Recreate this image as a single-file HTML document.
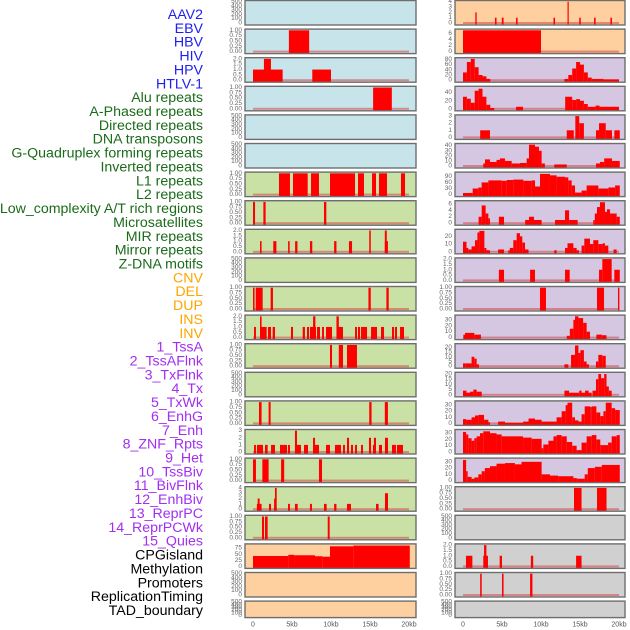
<!DOCTYPE html>
<html><head><meta charset="utf-8"><style>
html,body{margin:0;padding:0;background:#fff;}
svg{display:block;font-family:"Liberation Sans",sans-serif;}
</style></head><body>
<svg id="chart" width="630" height="630" viewBox="0 0 630 630" xmlns="http://www.w3.org/2000/svg"></svg>
<script>
const trackNames=["AAV2","EBV","HBV","HIV","HPV","HTLV-1","Alu repeats","A-Phased repeats","Directed repeats","DNA transposons","G-Quadruplex forming repeats","Inverted repeats","L1 repeats","L2 repeats","Low_complexity A/T rich regions","Microsatellites","MIR repeats","Mirror repeats","Z-DNA motifs","CNV","DEL","DUP","INS","INV","1_TssA","2_TssAFlnk","3_TxFlnk","4_Tx","5_TxWk","6_EnhG","7_Enh","8_ZNF_Rpts","9_Het","10_TssBiv","11_BivFlnk","12_EnhBiv","13_ReprPC","14_ReprPCWk","15_Quies","CPGisland","Methylation","Promoters","ReplicationTiming","TAD_boundary"];
const xTickKb=[0,5,10,15,20];
const xTickLabels=["0","5kb","10kb","15kb","20kb"];
// segments: [startKb, endKb, value]
const segAAV2=[];
const segEBV=[[4.6,7.2,1]];
const segHBV=[[0,3.8,1],[7.6,10.0,1],[1.4,2.3,2]];
const segHIV=[[15.4,17.8,1]];
const segHPV=[];
const segHTLV=[];
const segAlu=[[3.33,4.74,1],[5.13,7.01,1],[7.44,8.46,1],[9.87,13.08,1],[13.46,14.23,1],[15.26,15.77,1],[16.15,17.18,1],[18.97,19.49,1]];
const segAPhased=[[0,0.26,1],[1.33,1.62,1],[9.1,9.4,1]];
const segDirected=[[0.9,1.1,1],[2.6,3.0,1],[4.5,4.7,1],[5.4,5.7,1],[7.3,7.6,1],[10.4,10.7,1],[12.3,12.7,1],[14.9,15.1,2],[16.9,17.3,1],[16.9,17.15,2]];
const segDNAtrans=[];
const segGQuad=[[0,0.2,1],[0.35,1.24,1],[2.26,2.56,1],[14.8,15.1,1],[17.1,17.4,1]];
const segInverted=[[0.13,0.38,1],[0.9,1.75,1],[1.92,2.31,1],[2.52,2.82,1],[4.87,5.13,1],[6.37,6.66,1],[6.92,7.18,1],[7.3,8.08,1],[8.21,8.59,1],[8.85,9.1,1],[9.36,10.13,1],[10.77,11.54,1],[13.08,13.33,1],[13.46,13.72,1],[13.85,14.62,1],[15.13,15.9,1],[16.41,16.8,1],[17.82,18.08,1],[18.2,18.46,1],[18.85,19.36,1],[0.9,1.1,2],[7.7,8.0,2],[10.7,11.0,2]];
const segL1=[[9.87,10.13,1],[11.0,11.54,1],[12.05,13.33,1]];
const segL2=[];
const segLowComp=[[0.77,1.1,1],[2.0,2.26,1],[14.9,15.2,1],[16.9,17.3,1]];
const segMicro=[[0.13,0.38,1],[0.51,1.28,1],[1.54,1.88,1],[2.31,2.82,1],[3.46,4.36,1],[4.49,4.74,1],[5.38,6.15,1],[6.54,7.05,1],[7.69,8.46,1],[9.36,9.87,1],[10.51,11.28,1],[11.54,11.79,1],[12.05,12.31,1],[12.56,12.82,1],[13.08,13.33,1],[13.85,14.1,1],[14.87,15.13,1],[15.38,15.77,1],[16.15,16.54,1],[16.92,17.31,1],[17.82,18.33,1],[18.46,19.23,1],[7.69,7.95,2],[12.05,12.31,2],[14.87,15.13,2],[15.5,15.77,2],[16.92,17.31,2],[5.38,5.64,3]];
const segMIR=[[0,0.38,1],[1.2,2.0,1],[3.6,4.0,1],[8.46,8.85,1]];
const segMirror=[[0.5,1.1,1],[0.6,0.85,2],[2.05,2.31,1],[2.7,2.95,2],[2.82,3.04,4],[4.49,4.74,1],[5.38,5.73,1],[7.3,7.56,1],[9.1,9.44,1],[10.4,10.7,1],[12.05,12.56,1],[15.77,16.1,1],[16.92,17.31,3]];
const segZDNA=[[1.15,1.41,1],[1.54,1.88,1],[9.58,9.83,1]];
const segCNV=[[0,4.53,43],[4.53,5.26,48],[5.26,7.95,46],[7.95,8.93,42],[8.93,9.87,40],[9.87,12.86,83],[12.86,20.1,86]];
const segDEL=[];
const segDUP=[];
const segINS=[[1.58,1.75,2],[4.1,4.3,1],[4.97,5.2,1],[6.8,7.0,1],[11.6,11.8,1],[13.4,13.55,4],[14.9,15.1,1],[16.8,17.0,1],[18.9,19.1,1]];
const segINV=[[0,10,7]];
const segTssA=[[0,0.5,30],[0.5,1,70],[1,1.5,82],[1.5,2,50],[2,2.5,20],[2.5,3,15],[3,3.5,5],[13,13.5,5],[13.5,14,20],[14,14.5,45],[14.5,15,70],[15,15.5,60],[15.5,16,30],[16,16.5,10],[16.5,18,5],[18,20,3]];
const segTssAFlnk=[[0,0.5,30],[0.5,1,25],[1,1.5,15],[1.5,2,45],[2,2.5,50],[2.5,3,30],[3,3.5,10],[3.5,4,2],[6.8,7.7,5],[13.1,14,30],[14,14.5,22],[14.5,15,24],[15,15.5,20],[15.5,16,12],[16,17,5],[17,17.5,8],[17.5,20,5]];
const segTxFlnk=[[2.2,3.46,1],[13.3,14.2,1],[14.4,14.9,3],[14.9,15.5,2],[17.05,17.44,1],[17.44,18.3,2],[18.3,19.1,1],[19.4,20.1,1]];
const segTx=[[2.6,2.82,5],[2.82,3.46,13],[3.46,4.3,8],[4.3,4.74,12],[4.74,5.38,15],[5.38,6.24,10],[6.24,7.3,5],[7.3,8.16,6],[8.16,8.46,15],[8.46,9.23,42],[9.23,9.74,38],[9.74,10.08,30],[10.08,10.5,5],[11.7,13.3,3],[17.05,17.56,5],[17.56,18.1,8],[18.1,19.1,15],[19.1,20.1,10]];
const segTxWk=[[0,1.24,8],[1.24,1.97,30],[1.97,2.39,35],[2.39,3.25,60],[3.25,4.96,70],[4.96,5.6,68],[5.6,6.45,72],[6.45,7.74,74],[7.74,8.8,68],[8.8,9.23,70],[9.23,9.87,40],[9.87,11.15,102],[11.15,12.0,95],[12.0,13.08,88],[13.08,13.5,85],[13.5,13.93,70],[13.93,14.36,45],[14.36,15.2,10],[15.2,15.85,20],[15.85,17.35,45],[17.35,18.63,30],[18.63,19.5,35],[19.5,20.1,45]];
const segEnhG=[[2.0,2.4,2],[2.4,2.9,5.5],[2.9,3.25,3],[3.25,3.46,1.5],[4.6,5.26,2],[7.97,8.46,1],[8.46,9.1,2],[9.1,10.08,1],[11.8,13.08,1],[13.08,13.6,4],[13.6,14.7,1],[16.7,16.9,1],[16.9,17.18,3],[17.18,17.56,5],[17.56,18.2,6.5],[18.2,18.46,3.5],[18.46,18.85,4.3],[18.85,19.7,3],[19.7,20.1,2]];
const segEnh=[[0,0.45,13],[0.45,0.68,5],[0.68,1.1,3],[1.1,1.54,7],[1.54,1.85,15],[1.85,2.1,25],[2.1,2.74,27],[2.74,3.0,5],[3.0,3.46,2],[4.5,5.26,3],[5.8,6.0,2],[6.0,6.45,5],[6.45,6.88,15],[6.88,7.3,24],[7.3,7.6,20],[7.6,7.95,12],[7.95,8.4,3],[11.7,12.0,2],[13.08,13.4,5],[13.4,14.15,11],[14.15,14.57,5],[14.57,14.87,2],[15.2,15.55,8],[15.55,16.28,17],[16.28,16.7,10],[16.7,17.35,15],[17.35,17.9,10],[17.9,18.2,11],[18.2,18.63,8],[19.3,19.7,3]];
const segZNF=[[4.6,5.26,1],[8.6,9.23,1],[13.08,13.68,1],[17.44,17.86,1],[17.86,19.06,2],[19.4,20.1,1]];
const segHet=[[9.87,10.64,1],[17.18,18.08,1],[19.87,20.05,1]];
const segTssBiv=[[0.05,0.26,5],[0.26,1.45,8],[1.45,2.3,5],[13.3,13.7,3],[13.7,14.15,15],[14.15,14.36,30],[14.36,14.8,36],[14.8,15.4,33],[15.4,15.85,25],[15.85,16.28,10],[17.1,17.8,5],[17.8,18.4,4]];
const segBivFlnk=[[0,0.3,3],[0.3,1.1,3],[1.1,1.45,10],[1.45,1.75,8],[1.75,2.05,2],[13.0,13.5,2],[13.85,14.36,12],[14.36,14.8,22],[14.8,15.05,14],[15.05,15.5,17],[15.5,15.85,5],[15.85,16.15,2],[17.05,17.35,5],[17.35,17.86,12],[17.86,18.3,11]];
const segEnhBiv=[[0,0.45,4],[0.45,0.9,2],[0.9,1.33,3],[1.33,1.75,5],[1.75,2.4,3],[13.0,13.6,4],[13.6,14.9,2],[14.9,15.2,4],[15.2,15.65,2],[15.65,16.1,4],[16.1,16.5,2],[16.6,17.05,4],[17.05,17.35,15],[17.35,17.7,20],[17.7,18.1,16],[18.1,18.4,20],[18.4,18.7,8],[18.7,19.06,4]];
const segReprPC=[[0,0.4,7],[0.4,1.1,6],[1.1,1.54,10],[1.54,1.97,13],[1.97,2.7,14],[2.7,3.25,6],[3.25,3.46,2],[4.5,5.38,3],[5.38,7.7,1],[7.7,8.4,3],[8.4,9.23,8],[9.23,10.08,6],[10.08,12.0,3],[12.0,12.65,10],[12.65,13.16,20],[13.16,13.4,30],[13.4,14.0,34],[14.0,14.36,10],[14.36,14.8,5],[14.8,15.2,3],[15.2,15.6,15],[15.6,16.3,28],[16.3,16.5,27],[16.5,17.1,28],[17.1,17.6,18],[17.6,18.0,12],[18.0,18.3,20],[18.3,19.06,34],[19.06,19.5,25],[19.5,20.1,22]];
const segReprPCWk=[[0,0.4,32],[0.4,0.68,28],[0.68,1.1,22],[1.1,1.45,18],[1.45,1.75,22],[1.75,2.18,25],[2.18,2.6,30],[2.6,3.46,33],[3.46,4.3,30],[4.3,4.96,28],[4.96,7.7,25],[7.7,8.8,23],[8.8,10.08,21],[10.08,10.3,6],[10.3,10.95,12],[10.95,11.6,18],[11.6,12.0,25],[12.0,12.65,27],[12.65,13.3,25],[13.3,14.0,16],[14.0,14.57,10],[14.57,15.2,3],[15.2,15.85,15],[15.85,16.5,25],[16.5,17.1,27],[17.1,17.6,20],[17.6,18.6,11],[18.6,19.06,15],[19.06,19.7,25],[19.7,20.1,27]];
const segQuies=[[0,0.4,33],[0.4,0.6,15],[0.6,1.1,6],[1.1,1.45,3],[1.45,1.97,5],[1.97,2.4,10],[2.4,2.8,15],[2.8,3.46,20],[3.46,4.3,23],[4.3,5.38,27],[5.38,6.66,28],[6.66,7.5,26],[7.5,10.08,30],[10.08,11.15,10],[11.15,12.2,8],[12.2,14.15,7],[14.15,14.6,4],[14.6,15.6,3],[15.6,16.0,10],[16.0,16.9,20],[16.9,17.8,22],[17.8,20.1,25]];
const segCpG=[[14.23,15.2,1],[17.18,18.4,1]];
const segMethyl=[];
const segPromoters=[[0.38,1.2,1],[2.6,3.2,1],[2.7,3.0,2],[4.7,5.0,1],[8.7,9.0,1],[14.5,15.2,1]];
const segRepTiming=[[2.2,2.4,1],[5.0,5.2,1],[8.6,8.9,1]];
const segTAD=[];

const T1=["0.00","0.25","0.50","0.75","1.00"], T2=["0.0","0.5","1.0","1.5","2.0"], TE=["0","100","200","300","400","500"];
const BLUE="#c7e4eb",GREEN="#c9e1a5",ORANGE="#fecf9f",PURPLE="#d5c6e2",GRAY="#d0d0d0";
const panels=[
 [0,0,BLUE,500,TE,segAAV2,1],[0,1,BLUE,1,T1,segEBV],[0,2,BLUE,2,T2,segHBV],[0,3,BLUE,1,T1,segHIV],[0,4,BLUE,500,TE,segHPV,1],[0,5,BLUE,500,TE,segHTLV,1],
 [0,6,GREEN,1,T1,segAlu],[0,7,GREEN,1,T1,segAPhased],[0,8,GREEN,2,T2,segDirected],[0,9,GREEN,500,TE,segDNAtrans,1],[0,10,GREEN,1,T1,segGQuad],[0,11,GREEN,2,T2,segInverted],[0,12,GREEN,1,T1,segL1],[0,13,GREEN,500,TE,segL2,1],[0,14,GREEN,1,T1,segLowComp],[0,15,GREEN,3,["0","1","2","3"],segMicro],[0,16,GREEN,1,T1,segMIR],[0,17,GREEN,4,["0","1","2","3","4"],segMirror],[0,18,GREEN,1,T1,segZDNA],
 [0,19,ORANGE,88,["0","25","50","75"],segCNV],[0,20,ORANGE,500,TE,segDEL,1],[0,21,ORANGE,500,TE,segDUP,1],
 [1,0,ORANGE,4,["0","1","2","3","4"],segINS],[1,1,ORANGE,7,["0","2","4","6"],segINV],
 [1,2,PURPLE,82,["0","20","40","60","80"],segTssA],[1,3,PURPLE,53,["0","20","40"],segTssAFlnk],[1,4,PURPLE,3,["0","1","2","3"],segTxFlnk],[1,5,PURPLE,42,["0","10","20","30","40"],segTx],[1,6,PURPLE,105,["0","30","60","90"],segTxWk],[1,7,PURPLE,6.6,["0","2","4","6"],segEnhG],[1,8,PURPLE,27.5,["0","10","20"],segEnh],[1,9,PURPLE,2,T2,segZNF],[1,10,PURPLE,1,T1,segHet],[1,11,PURPLE,36,["0","10","20","30"],segTssBiv],[1,12,PURPLE,22.6,["0","5","10","15","20"],segBivFlnk],[1,13,PURPLE,20.5,["0","5","10","15","20"],segEnhBiv],[1,14,PURPLE,35,["0","10","20","30"],segReprPC],[1,15,PURPLE,34,["0","10","20","30"],segReprPCWk],[1,16,PURPLE,34,["0","10","20","30"],segQuies],
 [1,17,GRAY,1,T1,segCpG],[1,18,GRAY,500,TE,segMethyl,1],[1,19,GRAY,2,T2,segPromoters],[1,20,GRAY,1,T1,segRepTiming],[1,21,GRAY,500,TE,segTAD,1]
];
const labelColor=i=>i<6?"#1e1ef0":i<19?"#1a6b1a":i<24?"#ffa500":i<39?"#a22ff0":"#000";
const NS="http://www.w3.org/2000/svg";
const svg=document.getElementById("chart");
function mk(tag,attrs,parent){const e=document.createElementNS(NS,tag);for(const k in attrs)e.setAttribute(k,attrs[k]);(parent||svg).appendChild(e);return e;}
trackNames.forEach((n,i)=>{
 const t=mk("text",{x:203,y:15+13.86*i,"text-anchor":"end","dominant-baseline":"central","font-size":"14.2",fill:labelColor(i)});
 t.textContent=n;
 
 
});
const colX=[245,455], colW=[171,170], dataX0=[253,463], kbPx=7.8;
function xScale(col,kb){return dataX0[col]+kb*kbPx;}
panels.forEach((p,pi)=>{
 const [col,row,bg,max,ticks,segs,empty]=p;
 const top=0.5+row*28.6, h=row===21?16.5:24.5, bot=top+h;
 const y0=bot-2, yTop=top+1.2;
 const yScale=v=>y0-(v/max)*(y0-yTop);
 const g=mk("g",{});
 
 
 mk("rect",{x:colX[col],y:top,width:colW[col],height:h,fill:bg},g);
 if(!empty) mk("rect",{x:xScale(col,0),y:y0-1,width:20*kbPx,height:2,fill:"rgba(215,70,70,0.55)"},g);
 segs.forEach(s=>{
  const r=mk("rect",{x:xScale(col,s[0]),y:yScale(s[2]),width:Math.max(1.2,xScale(col,s[1])-xScale(col,s[0])),height:bot-yScale(s[2]),fill:"#ff0000"},g);
  
  
 });
 mk("rect",{x:colX[col],y:top,width:colW[col],height:h,fill:"none",stroke:"#6e6e6e","stroke-width":"1.4"},g);
 ticks.forEach(tl=>{
  const v=parseFloat(tl);
  const yy=empty? y0-(v/500)*(y0-top-1) : yScale(v);
  const t=mk("text",{x:colX[col]-3,y:yy,"text-anchor":"end","dominant-baseline":"central","font-size":"6.5",fill:"#666"},g);
  t.textContent=tl;
  
  
 });
});
[0,1].forEach(col=>{
 xTickKb.forEach((kb,i)=>{
  const t=mk("text",{x:xScale(col,kb),y:625,"text-anchor":"middle","dominant-baseline":"central","font-size":"7",fill:"#555"});
  t.textContent=xTickLabels[i];
  
  
 });
});
</script>
</body></html>
